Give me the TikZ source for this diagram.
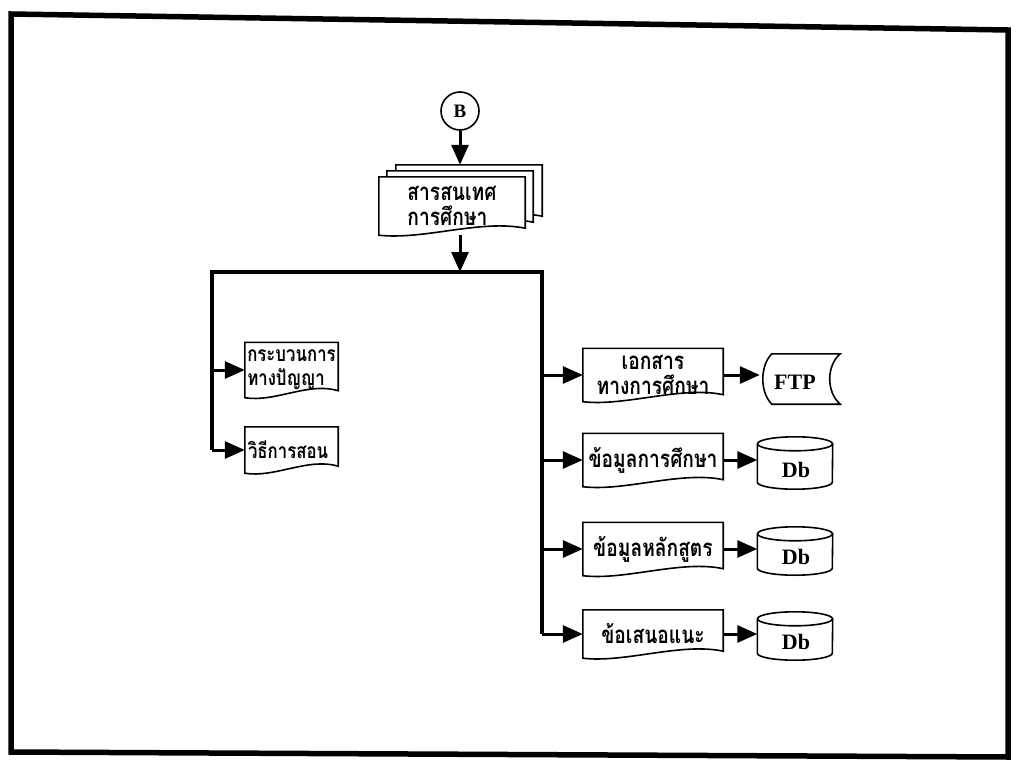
\documentclass[tikz,border=0pt]{standalone}
\usepackage{fontspec}
\setmainfont{Liberation Serif}
\newfontfamily\thaifont[Script=Thai, FakeStretch=0.8]{Loma}
\usetikzlibrary{arrows.meta}
\pgfdeclarelayer{bg}
\pgfsetlayers{bg,main}
\tikzset{
 conn/.style={line width=3pt, -{Triangle[length=20pt,width=17pt]}},
 busline/.style={line width=3.2pt, line join=miter},
 shapeline/.style={line width=1.6pt, fill=white},
 holder/.style={draw=none, inner sep=0pt},
 thaitext/.style={font=\thaifont\bfseries\fontsize{24}{25}\selectfont},
 thaismall/.style={font=\thaifont\bfseries\fontsize{21}{24}\selectfont},
 latin/.style={font=\bfseries\fontsize{22}{24}\selectfont},
 frameline/.style={line width=5.5pt, line join=miter}
}
\newcommand{\docshape}[2]{%
 \begin{pgfonlayer}{bg}
 \draw[shapeline] (#1.north west) -- (#1.north east) -- ([yshift=7pt]#1.south east)
  .. controls ([xshift=-#2,yshift=16pt]#1.south east) and ([xshift=#2,yshift=-5pt]#1.south west) .. (#1.south west) -- cycle;
 \end{pgfonlayer}}
\newcommand{\dbshape}[1]{%
 \draw[shapeline] ([yshift=-7pt]#1.north west) -- ([yshift=7pt]#1.south west)
   arc[start angle=180, end angle=360, x radius=37.5pt, y radius=7pt]
   -- ([yshift=-7pt]#1.north east);
 \draw[shapeline] ([yshift=-7pt]#1.north) ellipse[x radius=37.5pt, y radius=7pt];}
\begin{document}
\begin{tikzpicture}[x=1pt,y=-1pt]
\useasboundingbox (0,0) rectangle (1017,765);
\draw[frameline] (11,14) -- (1008,30) -- (1008,757) -- (11,752) -- cycle;

% start connector
\node[circle, draw, line width=1.6pt, minimum size=38pt, inner sep=0pt, font=\bfseries\fontsize{19}{21}\selectfont] (B) at (460,111) {B};

% multi-document
\node[holder, minimum width=146pt, minimum height=58pt] (infoC) at (469,194) {};
\node[holder, minimum width=146pt, minimum height=58pt] (infoB) at (460,200) {};
\node[holder, minimum width=146pt, minimum height=58pt, thaitext, align=left] (info) at (452,206) {สารสนเทศ\\การศึกษา};
\docshape{infoC}{45pt}
\docshape{infoB}{45pt}
\docshape{info}{45pt}

% bus
\coordinate (busL) at (212,272);
\coordinate (busR) at (542,272);
\coordinate (busM) at (460,272);

% left boxes
\node[holder, minimum width=93pt, minimum height=55pt, thaismall, align=left] (proc) at (291.5,370) {กระบวนการ\\ทางปัญญา};
\node[holder, minimum width=93pt, minimum height=46pt] (teach) at (291.5,450) {};
\node[thaismall, anchor=west, inner sep=0pt] (teacht) at ([xshift=3pt]teach.west) {วิธีการสอน};
\docshape{proc}{30pt}
\docshape{teach}{30pt}

% right boxes
\node[holder, minimum width=140pt, minimum height=53pt, thaitext, align=center] (doc1) at (653,375) {เอกสาร\\ทางการศึกษา};
\node[holder, minimum width=140pt, minimum height=53pt, thaitext] (doc2) at (653,460) {ข้อมูลการศึกษา};
\node[holder, minimum width=140pt, minimum height=53pt, thaitext] (doc3) at (653,549) {ข้อมูลหลักสูตร};
\node[holder, minimum width=140pt, minimum height=48pt, thaitext] (doc4) at (653,634) {ข้อเสนอแนะ};
\docshape{doc1}{42pt}
\docshape{doc2}{42pt}
\docshape{doc3}{42pt}
\docshape{doc4}{42pt}

% FTP stored data
\node[holder, minimum width=80pt, minimum height=50pt] (ftp) at (800,379) {};
\draw[shapeline] ([xshift=12pt]ftp.north west) -- (ftp.north east)
  .. controls ([xshift=-14pt,yshift=-12pt]ftp.north east) and ([xshift=-14pt,yshift=12pt]ftp.south east) .. (ftp.south east)
  -- ([xshift=12pt]ftp.south west)
  .. controls ([yshift=12pt]ftp.south west) and ([yshift=-12pt]ftp.north west) .. cycle;
\node[latin] (ftpt) at (795,382) {FTP};

% databases
\node[holder, minimum width=75pt, minimum height=52pt] (db2) at (795,463) {};
\node[holder, minimum width=75pt, minimum height=48pt] (db3) at (795,551) {};
\node[holder, minimum width=75pt, minimum height=48pt] (db4) at (795,636) {};
\dbshape{db2}
\dbshape{db3}
\dbshape{db4}
\node[latin] (db2t) at (796,470) {Db};
\node[latin] (db3t) at (796,557) {Db};
\node[latin] (db4t) at (796,642) {Db};

% connectors
\draw[conn] (B.south) -- (B.south |- infoC.north);
\draw[conn] (B |- info.south) -- (busM);
\draw[busline] (busL |- teach.west) -- (busL) -- (busR) -- (busR |- doc4.west);
\draw[conn] (busL |- proc.west) -- (proc.west);
\draw[conn] (busL |- teach.west) -- (teach.west);
\draw[conn] (busR |- doc1.west) -- (doc1.west);
\draw[conn] (busR |- doc2.west) -- (doc2.west);
\draw[conn] (busR |- doc3.west) -- (doc3.west);
\draw[conn] (busR |- doc4.west) -- (doc4.west);
\draw[conn] (doc1.east) -- (doc1.east -| ftp.west);
\draw[conn] (doc2.east) -- (doc2.east -| db2.west);
\draw[conn] (doc3.east) -- (doc3.east -| db3.west);
\draw[conn] (doc4.east) -- (doc4.east -| db4.west);
\end{tikzpicture}
\end{document}
